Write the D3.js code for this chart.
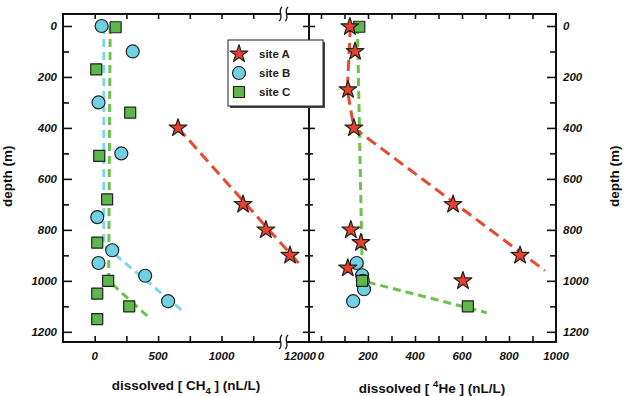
<!DOCTYPE html>
<html>
<head>
<meta charset="utf-8">
<script src="https://cdn.jsdelivr.net/npm/d3@7"></script>
<style>
  body { margin: 0; background: #fff; }
  svg { font-family: "Liberation Sans", Arial, sans-serif; }
  .tick-label { font-size: 11.5px; font-weight: bold; font-style: italic; fill: #111; }
  .title { font-size: 13.5px; font-weight: bold; fill: #111; }
</style>
</head>
<body>
<div id="chart"></div>
<script>
// depth ticks (m) and concentration ticks
const depthMajor = [0, 200, 400, 600, 800, 1000, 1200];
const depthMinor = [100, 300, 500, 700, 900, 1100];
const ch4Ticks = [0, 250, 500, 750, 1000, 1250];
const ch4Labels = [0, 500, 1000];
const ch4BreakLabel = "12000";
const heTicks = [0, 100, 200, 300, 400, 500, 600, 700, 800, 900];
const heLabels = [0, 200, 400, 600, 800, 1000];

// [concentration, depth] pairs, CH4 panel
const siteA_CH4 = [[657, 400], [1170, 700], [1350, 800], [1540, 900]];
const siteB_CH4 = [[55, 0], [300, 100], [30, 300], [210, 500], [20, 750],
                   [138, 880], [30, 930], [398, 980], [579, 1080]];
const siteC_CH4 = [[165, 5], [12, 170], [280, 340], [36, 510], [98, 680],
                   [20, 850], [106, 1000], [20, 1050], [272, 1100], [20, 1150]];
const trendA_CH4 = [[657, 400], [1634, 945]];
const trendB_CH4 = [[72, 0], [72, 860], [710, 1125]];
const trendC_CH4 = [[122, 0], [110, 1000], [430, 1145]];

// [concentration, depth] pairs, 4He panel
const siteA_He = [[123, 3], [145, 100], [115, 250], [140, 400], [562, 700],
                  [127, 800], [170, 850], [847, 900], [114, 950], [604, 1000]];
const siteB_He = [[152, 930], [175, 978], [178, 1000], [183, 1033], [137, 1080]];
const siteC_He = [[163, 3], [175, 1000], [625, 1100]];
const trendA_He = [[125, 0], [112, 250], [140, 400], [953, 960]];
const trendC_He = [[155, 0], [175, 930], [178, 1000], [705, 1125]];

const legendItems = ["site A", "site B", "site C"];

const colors = {
    A: "#e8402b",
    B: "#6fd2e4",
    C: "#5db84a"
};
const lineColors = {
    A: "#e84a2e",
    B: "#7fd6e6",
    C: "#6cc24c"
};

const width = 625, height = 396;
const frame = { top: 14, bottom: 342, left: 63, mid: 309, right: 556 };

const svg = d3.select("#chart").append("svg")
    .attr("width", width)
    .attr("height", height);

// scales
const y = d3.scaleLinear().domain([-47, 1240]).range([frame.top, frame.bottom]);
const xL = d3.scaleLinear().domain([-250, 1690]).range([frame.left, frame.mid]);
const xR = d3.scaleLinear().domain([-51, 1000]).range([frame.mid, frame.right]);

const symStar = d3.symbol().type(d3.symbolStar).size(98);
const symCircle = d3.symbol().type(d3.symbolCircle).size(Math.PI * 6.5 * 6.5);
const symSquare = d3.symbol().type(d3.symbolSquare).size(121);

// trend lines
function drawTrend(x, data, color, dash) {
    const line = d3.line().x(d => x(d[0])).y(d => y(d[1]));
    svg.append("path")
        .attr("d", line(data))
        .attr("fill", "none")
        .attr("stroke", color)
        .attr("stroke-width", 3)
        .attr("stroke-dasharray", dash);
}

drawTrend(xL, trendB_CH4, lineColors.B, "8,5");
drawTrend(xL, trendC_CH4, lineColors.C, "8,5");
drawTrend(xL, trendA_CH4, lineColors.A, "11,6");
drawTrend(xR, trendC_He, lineColors.C, "8,5");
drawTrend(xR, trendA_He, lineColors.A, "11,6");

// points
function drawPoints(x, data, sym, fill) {
    svg.append("g").selectAll("path")
        .data(data)
        .join("path")
        .attr("transform", d => `translate(${x(d[0])}, ${y(d[1])})`)
        .attr("d", sym)
        .attr("fill", fill)
        .attr("stroke", "#222")
        .attr("stroke-width", 1.2)
        .attr("stroke-linejoin", "round");
}

drawPoints(xL, siteB_CH4, symCircle, colors.B);
drawPoints(xL, siteC_CH4, symSquare, colors.C);
drawPoints(xL, siteA_CH4, symStar, colors.A);
drawPoints(xR, siteB_He, symCircle, colors.B);
drawPoints(xR, siteC_He, symSquare, colors.C);
drawPoints(xR, siteA_He, symStar, colors.A);

// ticks, drawn with d3 axes and the domain path removed
function ticks(axis, tx, ty) {
    const g = svg.append("g")
        .attr("transform", `translate(${tx}, ${ty})`)
        .call(axis.tickFormat(""));
    g.select(".domain").remove();
    g.selectAll("line").attr("stroke", "#111").attr("stroke-width", 1.6);
}

ticks(d3.axisRight(y).tickValues(depthMajor).tickSize(9), frame.left, 0);
ticks(d3.axisRight(y).tickValues(depthMinor).tickSize(6), frame.left, 0);
ticks(d3.axisLeft(y).tickValues(depthMajor).tickSize(9), frame.right, 0);
ticks(d3.axisLeft(y).tickValues(depthMinor).tickSize(6), frame.right, 0);
ticks(d3.axisLeft(y).tickValues(depthMajor).tickSize(6), frame.mid, 0);
ticks(d3.axisRight(y).tickValues(depthMajor).tickSize(6), frame.mid, 0);
ticks(d3.axisLeft(y).tickValues(depthMinor).tickSize(4), frame.mid, 0);
ticks(d3.axisRight(y).tickValues(depthMinor).tickSize(4), frame.mid, 0);

ticks(d3.axisBottom(xL).tickValues(ch4Ticks).tickSize(5), 0, frame.top);
ticks(d3.axisTop(xL).tickValues(ch4Ticks).tickSize(6), 0, frame.bottom);
ticks(d3.axisBottom(xR).tickValues(heTicks).tickSize(5), 0, frame.top);
ticks(d3.axisTop(xR).tickValues(heTicks).tickSize(6), 0, frame.bottom);

// frame
svg.append("rect")
    .attr("x", frame.left)
    .attr("y", frame.top)
    .attr("width", frame.right - frame.left)
    .attr("height", frame.bottom - frame.top)
    .attr("fill", "none")
    .attr("stroke", "#111")
    .attr("stroke-width", 2);
svg.append("line")
    .attr("x1", frame.mid).attr("x2", frame.mid)
    .attr("y1", frame.top).attr("y2", frame.bottom)
    .attr("stroke", "#111").attr("stroke-width", 2);

// axis break marks on top and bottom of the CH4 axis
const breakX = xL(1490);
[frame.top, frame.bottom].forEach(yy => {
    svg.append("rect")
        .attr("x", breakX - 3).attr("y", yy - 2)
        .attr("width", 6).attr("height", 4)
        .attr("fill", "#fff");
    [-3, 3].forEach(off => {
        const cx = breakX + off;
        svg.append("path")
            .attr("d", `M${cx + 1.5},${yy - 7} C${cx - 4},${yy - 3} ${cx + 4},${yy + 3} ${cx - 1.5},${yy + 7}`)
            .attr("fill", "none")
            .attr("stroke", "#111")
            .attr("stroke-width", 1.3);
    });
});

// depth labels
svg.append("g").selectAll("text")
    .data(depthMajor)
    .join("text")
    .attr("class", "tick-label")
    .attr("x", frame.left - 6)
    .attr("y", d => y(d))
    .attr("dy", "0.36em")
    .attr("text-anchor", "end")
    .text(d => d);

svg.append("g").selectAll("text")
    .data(depthMajor)
    .join("text")
    .attr("class", "tick-label")
    .attr("x", frame.right + 7)
    .attr("y", d => y(d))
    .attr("dy", "0.36em")
    .text(d => d);

// concentration labels
svg.append("g").selectAll("text")
    .data(ch4Labels)
    .join("text")
    .attr("class", "tick-label")
    .attr("x", d => xL(d))
    .attr("y", 360)
    .attr("text-anchor", "middle")
    .text(d => d);

// break label sits right against the "0" of the 4He axis
svg.append("text")
    .attr("class", "tick-label")
    .attr("x", xR(0) - 5)
    .attr("y", 360)
    .attr("text-anchor", "end")
    .text(ch4BreakLabel);

svg.append("g").selectAll("text")
    .data(heLabels)
    .join("text")
    .attr("class", "tick-label")
    .attr("x", d => xR(d))
    .attr("y", 360)
    .attr("text-anchor", "middle")
    .text(d => d);

// axis titles
const t1 = svg.append("text")
    .attr("class", "title")
    .attr("x", 186)
    .attr("y", 390)
    .attr("text-anchor", "middle");
t1.append("tspan").text("dissolved [ CH");
t1.append("tspan").attr("dy", 4).attr("font-size", "9.5px").text("4");
t1.append("tspan").attr("dy", -4).text(" ] (nL/L)");

const t2 = svg.append("text")
    .attr("class", "title")
    .attr("x", 432)
    .attr("y", 393)
    .attr("text-anchor", "middle");
t2.append("tspan").text("dissolved [ ");
t2.append("tspan").attr("dy", -6).attr("font-size", "9.5px").text("4");
t2.append("tspan").attr("dy", 6).text("He ] (nL/L)");

svg.append("text")
    .attr("class", "title")
    .attr("transform", `translate(12, ${y(590)}) rotate(-90)`)
    .attr("text-anchor", "middle")
    .text("depth (m)");

svg.append("text")
    .attr("class", "title")
    .attr("transform", `translate(619, ${y(590)}) rotate(-90)`)
    .attr("text-anchor", "middle")
    .text("depth (m)");

// legend
const legend = svg.append("g").attr("transform", "translate(228, 40)");
legend.append("rect")
    .attr("x", 2).attr("y", 2)
    .attr("width", 95).attr("height", 66)
    .attr("fill", "#444");
legend.append("rect")
    .attr("width", 95).attr("height", 66)
    .attr("fill", "#fff")
    .attr("stroke", "#222")
    .attr("stroke-width", 1);

const legendSyms = [
    [symStar, colors.A],
    [symCircle, colors.B],
    [symSquare, colors.C]
];
legend.selectAll("g.item")
    .data(legendItems)
    .join("g")
    .attr("class", "item")
    .attr("transform", (d, i) => `translate(0, ${14 + i * 19})`)
    .each(function (d, i) {
        const g = d3.select(this);
        g.append("path")
            .attr("transform", "translate(11, 0)")
            .attr("d", legendSyms[i][0])
            .attr("fill", legendSyms[i][1])
            .attr("stroke", "#222")
            .attr("stroke-width", 1.2)
            .attr("stroke-linejoin", "round");
        g.append("text")
            .attr("x", 31)
            .attr("dy", "0.36em")
            .attr("font-size", "11.5px")
            .attr("font-weight", "bold")
            .attr("fill", "#222")
            .text(d);
    });
</script>
</body>
</html>
